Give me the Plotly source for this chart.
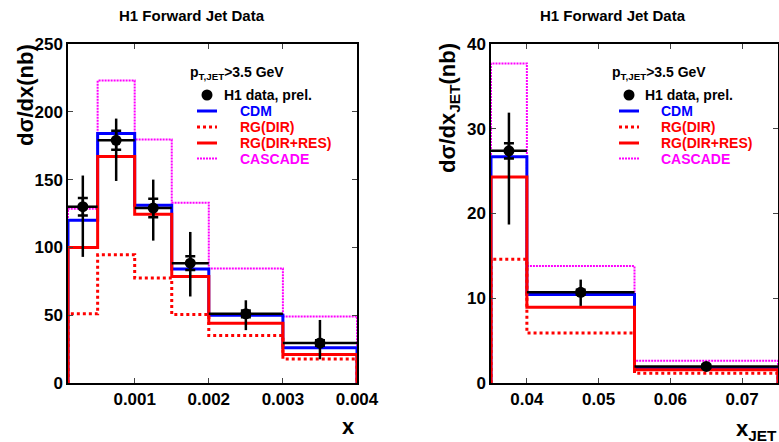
import plotly.graph_objects as go

# ---------------- data: left panel (x) ----------------
x_edges = [0.0001, 0.0005, 0.001, 0.0015, 0.002, 0.003, 0.004]
x_data = [130, 179, 129, 88.4, 51, 29.5]
x_tot_up = [23, 16, 21, 23, 10, 17]
x_tot_dn = [37, 30, 24, 24.6, 12, 12]
x_stat = [6.5, 7, 6.8, 5, 2.5, 2]
x_cdm = [120, 184, 131, 84, 50, 26]
x_rgdir = [51, 94.5, 77.5, 50.6, 35, 17.7]
x_rgres = [100, 167, 124.5, 78.5, 44, 21]
x_casc = [128.5, 223, 179.5, 133, 84.5, 49]
x_ticks = [0.001, 0.002, 0.003, 0.004]

# ---------------- data: right panel (x_JET) ----------------
j_edges = [0.035, 0.04, 0.055, 0.075]
j_data = [27.4, 10.7, 1.96]
j_tot_up = [4.5, 1.5, 0.3]
j_tot_dn = [8.7, 1.6, 0.3]
j_stat = [0.9, 0.3, 0.2]
j_cdm = [26.7, 10.45, 1.82]
j_rgdir = [14.6, 5.9, 1.15]
j_rgres = [24.3, 8.95, 1.55]
j_casc = [37.7, 13.8, 2.62]
j_ticks = [0.04, 0.05, 0.06, 0.07]

legend_names = ["H1 data, prel.", "CDM", "RG(DIR)", "RG(DIR+RES)", "CASCADE"]
legend_header = "p<sub>T,JET</sub>>3.5 GeV"

FONT = "Liberation Sans, Arial, Helvetica, sans-serif"
BLUE, RED, MAG = "#0000ff", "#ff0000", "#ff00ff"
W, H = 779, 442
TOP, BOT = 44, 383

STYLES = {
    "CASCADE": dict(color=MAG, width=2, dash="2px,1px"),
    "CDM": dict(color=BLUE, width=3),
    "RG(DIR)": dict(color=RED, width=3, dash="dot"),
    "RG(DIR+RES)": dict(color=RED, width=3),
}


def px(x):
    return x / W


def py(y):
    return (BOT - y) / (BOT - TOP)


def steps(edges, vals):
    xs, ys = [edges[0]], [0]
    for i, v in enumerate(vals):
        xs += [edges[i], edges[i + 1]]
        ys += [v, v]
    xs.append(edges[-1])
    ys.append(0)
    return xs, ys


fig = go.Figure()


def add_panel(edges, data, up, dn, stat, cdm, rgdir, rgres, casc, xa, ya):
    centers = [(edges[i] + edges[i + 1]) / 2 for i in range(len(data))]
    halfw = [(edges[i + 1] - edges[i]) / 2 for i in range(len(data))]
    models = [("CASCADE", casc), ("CDM", cdm), ("RG(DIR)", rgdir), ("RG(DIR+RES)", rgres)]
    for name, vals in models:
        xs, ys = steps(edges, vals)
        fig.add_trace(go.Scatter(x=xs, y=ys, mode="lines", line=STYLES[name], name=name,
                                 xaxis=xa, yaxis=ya, showlegend=False, hoverinfo="skip"))
    fig.add_trace(go.Scatter(x=centers, y=data, mode="markers",
                             marker=dict(size=1, color="rgba(0,0,0,0)"),
                             error_y=dict(type="data", array=stat, color="black",
                                          thickness=2.5, width=5),
                             xaxis=xa, yaxis=ya, showlegend=False, hoverinfo="skip"))
    fig.add_trace(go.Scatter(x=centers, y=data, mode="markers", name="H1 data, prel.",
                             marker=dict(size=11, color="black", symbol="circle"),
                             error_y=dict(type="data", symmetric=False, array=up,
                                          arrayminus=dn, color="black", thickness=2.5,
                                          width=0),
                             error_x=dict(type="data", array=halfw, color="black",
                                          thickness=2.5, width=0),
                             xaxis=xa, yaxis=ya, showlegend=False))


add_panel(x_edges, x_data, x_tot_up, x_tot_dn, x_stat, x_cdm, x_rgdir, x_rgres,
          x_casc, "x", "y")
add_panel(j_edges, j_data, j_tot_up, j_tot_dn, j_stat, j_cdm, j_rgdir, j_rgres,
          j_casc, "x2", "y2")

axis_common = dict(showline=True, linecolor="black", linewidth=1.5, mirror="ticks",
                   ticks="inside", ticklen=5, tickwidth=1, tickcolor="#444",
                   showgrid=False, zeroline=False, automargin=False,
                   tickfont=dict(family=FONT, size=17, color="black", weight="bold"))

fig.update_layout(
    width=W, height=H, autosize=False,
    margin=dict(l=0, r=0, t=TOP, b=H - BOT, pad=0, autoexpand=False),
    plot_bgcolor="white", paper_bgcolor="white",
    font=dict(family=FONT, color="black"),
    showlegend=False,
    xaxis=dict(domain=[px(68), px(357)], range=[x_edges[0], x_edges[-1]],
               tickvals=x_ticks, ticktext=[f"{v:.3f}" for v in x_ticks], **axis_common),
    yaxis=dict(range=[0, 250], tickvals=[0, 50, 100, 150, 200, 250], anchor="x",
               **axis_common),
    xaxis2=dict(domain=[px(491), px(778)], range=[j_edges[0], j_edges[-1]],
                tickvals=j_ticks, ticktext=[f"{v:.2f}" for v in j_ticks], anchor="y2",
                **axis_common),
    yaxis2=dict(range=[0, 40], tickvals=[0, 10, 20, 30, 40], anchor="x2", **axis_common),
)

# ---- manual legends (key graphics + labels) ----
leg_font = dict(family=FONT, size=14, color="black", weight="bold")
name_colors = {"H1 data, prel.": "black", "CDM": BLUE, "RG(DIR)": RED,
               "RG(DIR+RES)": RED, "CASCADE": MAG}
row_y = [95, 111, 127, 143, 158.5]


def add_legend(x_head, x_key0, x_key1, x_text_data, x_text_model):
    fig.add_annotation(text=legend_header, x=px(x_head), y=py(73), xref="paper",
                       yref="paper", showarrow=False, font=leg_font,
                       xanchor="left", yanchor="middle")
    for name, yy in zip(legend_names, row_y):
        if name == "H1 data, prel.":
            cx = (x_key0 + x_key1) / 2
            r = 5.5
            fig.add_shape(type="circle", xref="paper", yref="paper",
                          x0=px(cx - r), x1=px(cx + r), y0=py(yy + r), y1=py(yy - r),
                          fillcolor="black", line=dict(color="black", width=0))
            tx = x_text_data
        else:
            st = STYLES[name]
            fig.add_shape(type="line", xref="paper", yref="paper",
                          x0=px(x_key0), x1=px(x_key1), y0=py(yy), y1=py(yy),
                          line=dict(color=st["color"], width=st["width"],
                                    dash=st.get("dash", "solid")))
            tx = x_text_model
        fig.add_annotation(text=name, x=px(tx), y=py(yy), xref="paper", yref="paper",
                           showarrow=False, xanchor="left", yanchor="middle",
                           font=dict(leg_font, color=name_colors[name]))


add_legend(188, 197, 217, 222, 238)
add_legend(610, 619, 639, 643, 659)

ann_font_t = dict(family=FONT, size=15, color="black", weight="bold")
ann_font_ax = dict(family=FONT, size=22, color="black", weight="bold")
for cx in (192, 613):
    fig.add_annotation(text="H1 Forward Jet Data", x=px(cx), y=py(15), xref="paper",
                       yref="paper", showarrow=False, font=ann_font_t,
                       xanchor="center", yanchor="middle")
fig.add_annotation(text="dσ/dx(nb)", x=px(26), y=py(42), xref="paper", yref="paper",
                   showarrow=False, textangle=-90, font=ann_font_ax,
                   xanchor="center", yanchor="top")
fig.add_annotation(text="dσ/dx<sub>JET</sub>(nb)", x=px(449), y=py(41), xref="paper",
                   yref="paper", showarrow=False, textangle=-90, font=ann_font_ax,
                   xanchor="center", yanchor="top")
fig.add_annotation(text="x", x=px(357), y=py(426), xref="paper", yref="paper",
                   showarrow=False, font=ann_font_ax, xanchor="right", yanchor="middle")
fig.add_annotation(text="x<sub>JET</sub>", x=px(779), y=py(430), xref="paper",
                   yref="paper", showarrow=False, font=ann_font_ax, xanchor="right",
                   yanchor="middle")

post = """
document.documentElement.style.margin='0';
document.body.style.margin='0';
document.body.style.overflow='hidden';
"""

fig.write_html("out.html", config={"displayModeBar": False, "responsive": False},
               post_script=post)
